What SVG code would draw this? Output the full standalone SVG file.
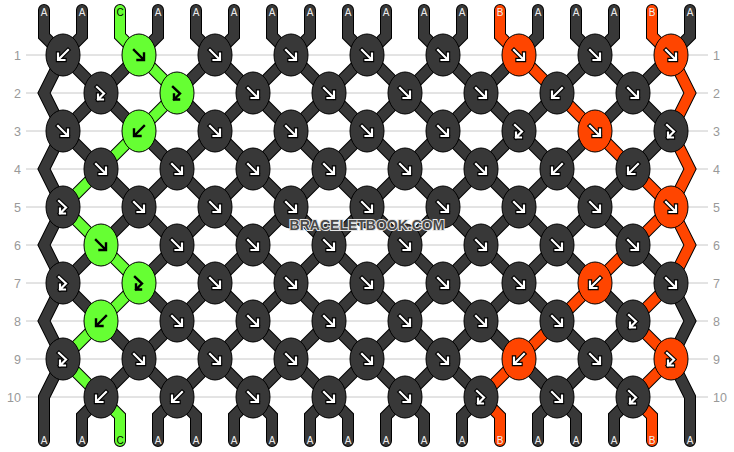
<svg xmlns="http://www.w3.org/2000/svg" xmlns:xlink="http://www.w3.org/1999/xlink" width="734" height="452" viewBox="0 0 734 452">
<style>
.d{fill:#383838}.g{fill:#66ff33}.o{fill:#ff4500}
ellipse{stroke:#000;stroke-width:1}
.rl{stroke:#c8c8c8;stroke-width:1}
.rn{font-family:"Liberation Sans",Arial,sans-serif;font-size:12.5px;fill:#999}
.sl{font-family:"Liberation Sans",Arial,sans-serif;font-size:10px;text-anchor:middle}
.wt{fill:#eee}.bt{fill:#000}
</style>
<defs>
<g id="strings">
<g id="sA">
<path d="M44,10V36L63,55L101,93L63,131L44,169L63,207L44,245L63,283L44,321L63,359L44,397V441"/>
<path d="M82,10V36L63,55L44,93L63,131L101,169L139,207L177,245L215,283L253,321L291,359L329,397L348,416V441"/>
<path d="M158,10V36L139,55L101,93L139,131L177,169L215,207L253,245L291,283L329,321L367,359L405,397L424,416V441"/>
<path d="M196,10V36L215,55L253,93L291,131L329,169L367,207L405,245L443,283L481,321L519,359L557,397L576,416V441"/>
<path d="M234,10V36L215,55L177,93L215,131L253,169L291,207L329,245L367,283L405,321L443,359L481,397L462,416V441"/>
<path d="M272,10V36L291,55L329,93L367,131L405,169L443,207L481,245L519,283L557,321L595,359L633,397L614,416V441"/>
<path d="M310,10V36L291,55L253,93L215,131L177,169L139,207L101,245L63,283L101,321L139,359L177,397L196,416V441"/>
<path d="M348,10V36L367,55L405,93L443,131L481,169L519,207L557,245L595,283L633,321L595,359L557,397L538,416V441"/>
<path d="M386,10V36L367,55L329,93L291,131L253,169L215,207L177,245L139,283L177,321L215,359L253,397L272,416V441"/>
<path d="M424,10V36L443,55L481,93L519,131L481,169L443,207L405,245L367,283L329,321L291,359L253,397L234,416V441"/>
<path d="M462,10V36L443,55L405,93L367,131L329,169L291,207L253,245L215,283L177,321L139,359L101,397L82,416V441"/>
<path d="M538,10V36L519,55L481,93L443,131L405,169L367,207L329,245L291,283L253,321L215,359L177,397L158,416V441"/>
<path d="M576,10V36L595,55L633,93L671,131L633,169L595,207L557,245L519,283L481,321L443,359L405,397L386,416V441"/>
<path d="M614,10V36L595,55L557,93L519,131L557,169L595,207L633,245L671,283L690,321L671,359L690,397V441"/>
<path d="M690,10V36L671,55L633,93L595,131L557,169L519,207L481,245L443,283L405,321L367,359L329,397L310,416V441"/>
</g>
<g id="sB">
<path d="M500,10V36L519,55L557,93L595,131L633,169L671,207L690,245L671,283L633,321L671,359L633,397L652,416V441"/>
<path d="M652,10V36L671,55L690,93L671,131L690,169L671,207L633,245L595,283L557,321L519,359L481,397L500,416V441"/>
</g>
<g id="sC">
<path d="M120,10V36L139,55L177,93L139,131L101,169L63,207L101,245L139,283L101,321L63,359L101,397L120,416V441"/>
</g>
</g>
<path id="pf" d="M-5,-5L4.5,4.5M5,-1.5V5H-1.5"/>
<path id="pb" d="M5,-5L-4.5,4.5M-5,-1.5V5H1.5"/>
<path id="ph" d="M-4,-6L3,0.5L-3,6.5M-3,1.5V6.5H2"/>
<g id="fW" fill="none" stroke-linecap="square"><use href="#pf" stroke="#000" stroke-width="4.4"/><use href="#pf" stroke="#fff" stroke-width="2.2"/></g>
<g id="bW" fill="none" stroke-linecap="square"><use href="#pb" stroke="#000" stroke-width="4.4"/><use href="#pb" stroke="#fff" stroke-width="2.2"/></g>
<g id="hW" fill="none" stroke-linecap="square"><use href="#ph" stroke="#000" stroke-width="4.4"/><use href="#ph" stroke="#fff" stroke-width="2.2"/></g>
<g id="fK" fill="none" stroke-linecap="square"><use href="#pf" stroke="#000" stroke-width="2.4"/></g>
<g id="bK" fill="none" stroke-linecap="square"><use href="#pb" stroke="#000" stroke-width="2.4"/></g>
<g id="hK" fill="none" stroke-linecap="square"><use href="#ph" stroke="#000" stroke-width="2.4"/></g>
</defs>
<rect width="734" height="452" fill="#fff"/>
<g id="rows">
<line class="rl" x1="26" y1="55" x2="708" y2="55"/>
<line class="rl" x1="26" y1="93" x2="708" y2="93"/>
<line class="rl" x1="26" y1="131" x2="708" y2="131"/>
<line class="rl" x1="26" y1="169" x2="708" y2="169"/>
<line class="rl" x1="26" y1="207" x2="708" y2="207"/>
<line class="rl" x1="26" y1="245" x2="708" y2="245"/>
<line class="rl" x1="26" y1="283" x2="708" y2="283"/>
<line class="rl" x1="26" y1="321" x2="708" y2="321"/>
<line class="rl" x1="26" y1="359" x2="708" y2="359"/>
<line class="rl" x1="26" y1="397" x2="708" y2="397"/>
<g class="rn" text-anchor="end">
<text x="21" y="59.5">1</text><text x="21" y="97.5">2</text><text x="21" y="135.5">3</text><text x="21" y="173.5">4</text><text x="21" y="211.5">5</text><text x="21" y="249.5">6</text><text x="21" y="287.5">7</text><text x="21" y="325.5">8</text><text x="21" y="363.5">9</text><text x="21" y="401.5">10</text>
</g>
<g class="rn">
<text x="713" y="59.5">1</text><text x="713" y="97.5">2</text><text x="713" y="135.5">3</text><text x="713" y="173.5">4</text><text x="713" y="211.5">5</text><text x="713" y="249.5">6</text><text x="713" y="287.5">7</text><text x="713" y="325.5">8</text><text x="713" y="363.5">9</text><text x="713" y="401.5">10</text>
</g>
</g>
<g id="connectors" fill="none" stroke-linejoin="miter" stroke-linecap="round">
<use href="#strings" stroke="#000" stroke-width="12"/>
<use href="#sA" stroke="#383838" stroke-width="10"/>
<use href="#sB" stroke="#ff4500" stroke-width="10"/>
<use href="#sC" stroke="#66ff33" stroke-width="10"/>
</g>
<g id="labels" class="sl">
<text class="wt" x="44" y="16">A</text><text class="wt" x="82" y="16">A</text><text class="bt" x="120" y="16">C</text><text class="wt" x="158" y="16">A</text><text class="wt" x="196" y="16">A</text><text class="wt" x="234" y="16">A</text><text class="wt" x="272" y="16">A</text><text class="wt" x="310" y="16">A</text><text class="wt" x="348" y="16">A</text><text class="wt" x="386" y="16">A</text><text class="wt" x="424" y="16">A</text><text class="wt" x="462" y="16">A</text><text class="wt" x="500" y="16">B</text><text class="wt" x="538" y="16">A</text><text class="wt" x="576" y="16">A</text><text class="wt" x="614" y="16">A</text><text class="wt" x="652" y="16">B</text><text class="wt" x="690" y="16">A</text>
<text class="wt" x="44" y="444">A</text><text class="wt" x="82" y="444">A</text><text class="bt" x="120" y="444">C</text><text class="wt" x="158" y="444">A</text><text class="wt" x="196" y="444">A</text><text class="wt" x="234" y="444">A</text><text class="wt" x="272" y="444">A</text><text class="wt" x="310" y="444">A</text><text class="wt" x="348" y="444">A</text><text class="wt" x="386" y="444">A</text><text class="wt" x="424" y="444">A</text><text class="wt" x="462" y="444">A</text><text class="wt" x="500" y="444">B</text><text class="wt" x="538" y="444">A</text><text class="wt" x="576" y="444">A</text><text class="wt" x="614" y="444">A</text><text class="wt" x="652" y="444">B</text><text class="wt" x="690" y="444">A</text>
</g>
<g id="knots">
<g id="k1-1"><ellipse class="d" cx="63" cy="55" rx="17" ry="21"/><use href="#bW" x="63" y="55"/></g>
<g id="k1-2"><ellipse class="g" cx="139" cy="55" rx="17" ry="21"/><use href="#fK" x="139" y="55"/></g>
<g id="k1-3"><ellipse class="d" cx="215" cy="55" rx="17" ry="21"/><use href="#fW" x="215" y="55"/></g>
<g id="k1-4"><ellipse class="d" cx="291" cy="55" rx="17" ry="21"/><use href="#fW" x="291" y="55"/></g>
<g id="k1-5"><ellipse class="d" cx="367" cy="55" rx="17" ry="21"/><use href="#fW" x="367" y="55"/></g>
<g id="k1-6"><ellipse class="d" cx="443" cy="55" rx="17" ry="21"/><use href="#fW" x="443" y="55"/></g>
<g id="k1-7"><ellipse class="o" cx="519" cy="55" rx="17" ry="21"/><use href="#fW" x="519" y="55"/></g>
<g id="k1-8"><ellipse class="d" cx="595" cy="55" rx="17" ry="21"/><use href="#fW" x="595" y="55"/></g>
<g id="k1-9"><ellipse class="o" cx="671" cy="55" rx="17" ry="21"/><use href="#fW" x="671" y="55"/></g>

<g id="k2-1"><ellipse class="d" cx="101" cy="93" rx="17" ry="21"/><use href="#hW" x="101" y="93"/></g>
<g id="k2-2"><ellipse class="g" cx="177" cy="93" rx="17" ry="21"/><use href="#hK" x="177" y="93"/></g>
<g id="k2-3"><ellipse class="d" cx="253" cy="93" rx="17" ry="21"/><use href="#fW" x="253" y="93"/></g>
<g id="k2-4"><ellipse class="d" cx="329" cy="93" rx="17" ry="21"/><use href="#fW" x="329" y="93"/></g>
<g id="k2-5"><ellipse class="d" cx="405" cy="93" rx="17" ry="21"/><use href="#fW" x="405" y="93"/></g>
<g id="k2-6"><ellipse class="d" cx="481" cy="93" rx="17" ry="21"/><use href="#fW" x="481" y="93"/></g>
<g id="k2-7"><ellipse class="d" cx="557" cy="93" rx="17" ry="21"/><use href="#bW" x="557" y="93"/></g>
<g id="k2-8"><ellipse class="d" cx="633" cy="93" rx="17" ry="21"/><use href="#fW" x="633" y="93"/></g>

<g id="k3-1"><ellipse class="d" cx="63" cy="131" rx="17" ry="21"/><use href="#fW" x="63" y="131"/></g>
<g id="k3-2"><ellipse class="g" cx="139" cy="131" rx="17" ry="21"/><use href="#bK" x="139" y="131"/></g>
<g id="k3-3"><ellipse class="d" cx="215" cy="131" rx="17" ry="21"/><use href="#fW" x="215" y="131"/></g>
<g id="k3-4"><ellipse class="d" cx="291" cy="131" rx="17" ry="21"/><use href="#fW" x="291" y="131"/></g>
<g id="k3-5"><ellipse class="d" cx="367" cy="131" rx="17" ry="21"/><use href="#fW" x="367" y="131"/></g>
<g id="k3-6"><ellipse class="d" cx="443" cy="131" rx="17" ry="21"/><use href="#fW" x="443" y="131"/></g>
<g id="k3-7"><ellipse class="d" cx="519" cy="131" rx="17" ry="21"/><use href="#hW" x="519" y="131"/></g>
<g id="k3-8"><ellipse class="o" cx="595" cy="131" rx="17" ry="21"/><use href="#fW" x="595" y="131"/></g>
<g id="k3-9"><ellipse class="d" cx="671" cy="131" rx="17" ry="21"/><use href="#hW" x="671" y="131"/></g>

<g id="k4-1"><ellipse class="d" cx="101" cy="169" rx="17" ry="21"/><use href="#fW" x="101" y="169"/></g>
<g id="k4-2"><ellipse class="d" cx="177" cy="169" rx="17" ry="21"/><use href="#fW" x="177" y="169"/></g>
<g id="k4-3"><ellipse class="d" cx="253" cy="169" rx="17" ry="21"/><use href="#fW" x="253" y="169"/></g>
<g id="k4-4"><ellipse class="d" cx="329" cy="169" rx="17" ry="21"/><use href="#fW" x="329" y="169"/></g>
<g id="k4-5"><ellipse class="d" cx="405" cy="169" rx="17" ry="21"/><use href="#fW" x="405" y="169"/></g>
<g id="k4-6"><ellipse class="d" cx="481" cy="169" rx="17" ry="21"/><use href="#fW" x="481" y="169"/></g>
<g id="k4-7"><ellipse class="d" cx="557" cy="169" rx="17" ry="21"/><use href="#bW" x="557" y="169"/></g>
<g id="k4-8"><ellipse class="d" cx="633" cy="169" rx="17" ry="21"/><use href="#bW" x="633" y="169"/></g>

<g id="k5-1"><ellipse class="d" cx="63" cy="207" rx="17" ry="21"/><use href="#hW" x="63" y="207"/></g>
<g id="k5-2"><ellipse class="d" cx="139" cy="207" rx="17" ry="21"/><use href="#fW" x="139" y="207"/></g>
<g id="k5-3"><ellipse class="d" cx="215" cy="207" rx="17" ry="21"/><use href="#fW" x="215" y="207"/></g>
<g id="k5-4"><ellipse class="d" cx="291" cy="207" rx="17" ry="21"/><use href="#fW" x="291" y="207"/></g>
<g id="k5-5"><ellipse class="d" cx="367" cy="207" rx="17" ry="21"/><use href="#fW" x="367" y="207"/></g>
<g id="k5-6"><ellipse class="d" cx="443" cy="207" rx="17" ry="21"/><use href="#fW" x="443" y="207"/></g>
<g id="k5-7"><ellipse class="d" cx="519" cy="207" rx="17" ry="21"/><use href="#fW" x="519" y="207"/></g>
<g id="k5-8"><ellipse class="d" cx="595" cy="207" rx="17" ry="21"/><use href="#fW" x="595" y="207"/></g>
<g id="k5-9"><ellipse class="o" cx="671" cy="207" rx="17" ry="21"/><use href="#fW" x="671" y="207"/></g>

<g id="k6-1"><ellipse class="g" cx="101" cy="245" rx="17" ry="21"/><use href="#fK" x="101" y="245"/></g>
<g id="k6-2"><ellipse class="d" cx="177" cy="245" rx="17" ry="21"/><use href="#fW" x="177" y="245"/></g>
<g id="k6-3"><ellipse class="d" cx="253" cy="245" rx="17" ry="21"/><use href="#fW" x="253" y="245"/></g>
<g id="k6-4"><ellipse class="d" cx="329" cy="245" rx="17" ry="21"/><use href="#fW" x="329" y="245"/></g>
<g id="k6-5"><ellipse class="d" cx="405" cy="245" rx="17" ry="21"/><use href="#fW" x="405" y="245"/></g>
<g id="k6-6"><ellipse class="d" cx="481" cy="245" rx="17" ry="21"/><use href="#fW" x="481" y="245"/></g>
<g id="k6-7"><ellipse class="d" cx="557" cy="245" rx="17" ry="21"/><use href="#fW" x="557" y="245"/></g>
<g id="k6-8"><ellipse class="d" cx="633" cy="245" rx="17" ry="21"/><use href="#fW" x="633" y="245"/></g>

<g id="k7-1"><ellipse class="d" cx="63" cy="283" rx="17" ry="21"/><use href="#hW" x="63" y="283"/></g>
<g id="k7-2"><ellipse class="g" cx="139" cy="283" rx="17" ry="21"/><use href="#hK" x="139" y="283"/></g>
<g id="k7-3"><ellipse class="d" cx="215" cy="283" rx="17" ry="21"/><use href="#fW" x="215" y="283"/></g>
<g id="k7-4"><ellipse class="d" cx="291" cy="283" rx="17" ry="21"/><use href="#fW" x="291" y="283"/></g>
<g id="k7-5"><ellipse class="d" cx="367" cy="283" rx="17" ry="21"/><use href="#fW" x="367" y="283"/></g>
<g id="k7-6"><ellipse class="d" cx="443" cy="283" rx="17" ry="21"/><use href="#fW" x="443" y="283"/></g>
<g id="k7-7"><ellipse class="d" cx="519" cy="283" rx="17" ry="21"/><use href="#fW" x="519" y="283"/></g>
<g id="k7-8"><ellipse class="o" cx="595" cy="283" rx="17" ry="21"/><use href="#bW" x="595" y="283"/></g>
<g id="k7-9"><ellipse class="d" cx="671" cy="283" rx="17" ry="21"/><use href="#fW" x="671" y="283"/></g>

<g id="k8-1"><ellipse class="g" cx="101" cy="321" rx="17" ry="21"/><use href="#bK" x="101" y="321"/></g>
<g id="k8-2"><ellipse class="d" cx="177" cy="321" rx="17" ry="21"/><use href="#fW" x="177" y="321"/></g>
<g id="k8-3"><ellipse class="d" cx="253" cy="321" rx="17" ry="21"/><use href="#fW" x="253" y="321"/></g>
<g id="k8-4"><ellipse class="d" cx="329" cy="321" rx="17" ry="21"/><use href="#fW" x="329" y="321"/></g>
<g id="k8-5"><ellipse class="d" cx="405" cy="321" rx="17" ry="21"/><use href="#fW" x="405" y="321"/></g>
<g id="k8-6"><ellipse class="d" cx="481" cy="321" rx="17" ry="21"/><use href="#fW" x="481" y="321"/></g>
<g id="k8-7"><ellipse class="d" cx="557" cy="321" rx="17" ry="21"/><use href="#fW" x="557" y="321"/></g>
<g id="k8-8"><ellipse class="d" cx="633" cy="321" rx="17" ry="21"/><use href="#hW" x="633" y="321"/></g>

<g id="k9-1"><ellipse class="d" cx="63" cy="359" rx="17" ry="21"/><use href="#hW" x="63" y="359"/></g>
<g id="k9-2"><ellipse class="d" cx="139" cy="359" rx="17" ry="21"/><use href="#fW" x="139" y="359"/></g>
<g id="k9-3"><ellipse class="d" cx="215" cy="359" rx="17" ry="21"/><use href="#fW" x="215" y="359"/></g>
<g id="k9-4"><ellipse class="d" cx="291" cy="359" rx="17" ry="21"/><use href="#fW" x="291" y="359"/></g>
<g id="k9-5"><ellipse class="d" cx="367" cy="359" rx="17" ry="21"/><use href="#fW" x="367" y="359"/></g>
<g id="k9-6"><ellipse class="d" cx="443" cy="359" rx="17" ry="21"/><use href="#fW" x="443" y="359"/></g>
<g id="k9-7"><ellipse class="o" cx="519" cy="359" rx="17" ry="21"/><use href="#bW" x="519" y="359"/></g>
<g id="k9-8"><ellipse class="d" cx="595" cy="359" rx="17" ry="21"/><use href="#fW" x="595" y="359"/></g>
<g id="k9-9"><ellipse class="o" cx="671" cy="359" rx="17" ry="21"/><use href="#hW" x="671" y="359"/></g>

<g id="k10-1"><ellipse class="d" cx="101" cy="397" rx="17" ry="21"/><use href="#bW" x="101" y="397"/></g>
<g id="k10-2"><ellipse class="d" cx="177" cy="397" rx="17" ry="21"/><use href="#bW" x="177" y="397"/></g>
<g id="k10-3"><ellipse class="d" cx="253" cy="397" rx="17" ry="21"/><use href="#fW" x="253" y="397"/></g>
<g id="k10-4"><ellipse class="d" cx="329" cy="397" rx="17" ry="21"/><use href="#fW" x="329" y="397"/></g>
<g id="k10-5"><ellipse class="d" cx="405" cy="397" rx="17" ry="21"/><use href="#fW" x="405" y="397"/></g>
<g id="k10-6"><ellipse class="d" cx="481" cy="397" rx="17" ry="21"/><use href="#hW" x="481" y="397"/></g>
<g id="k10-7"><ellipse class="d" cx="557" cy="397" rx="17" ry="21"/><use href="#fW" x="557" y="397"/></g>
<g id="k10-8"><ellipse class="d" cx="633" cy="397" rx="17" ry="21"/><use href="#hW" x="633" y="397"/></g>
</g>
<text id="watermark" x="367" y="230" text-anchor="middle" font-family="Liberation Sans, Arial, sans-serif" font-weight="bold" font-size="14" fill="#4a4a4a" stroke="#e8e8e8" stroke-width="2" paint-order="stroke">BRACELETBOOK.COM</text>
</svg>
